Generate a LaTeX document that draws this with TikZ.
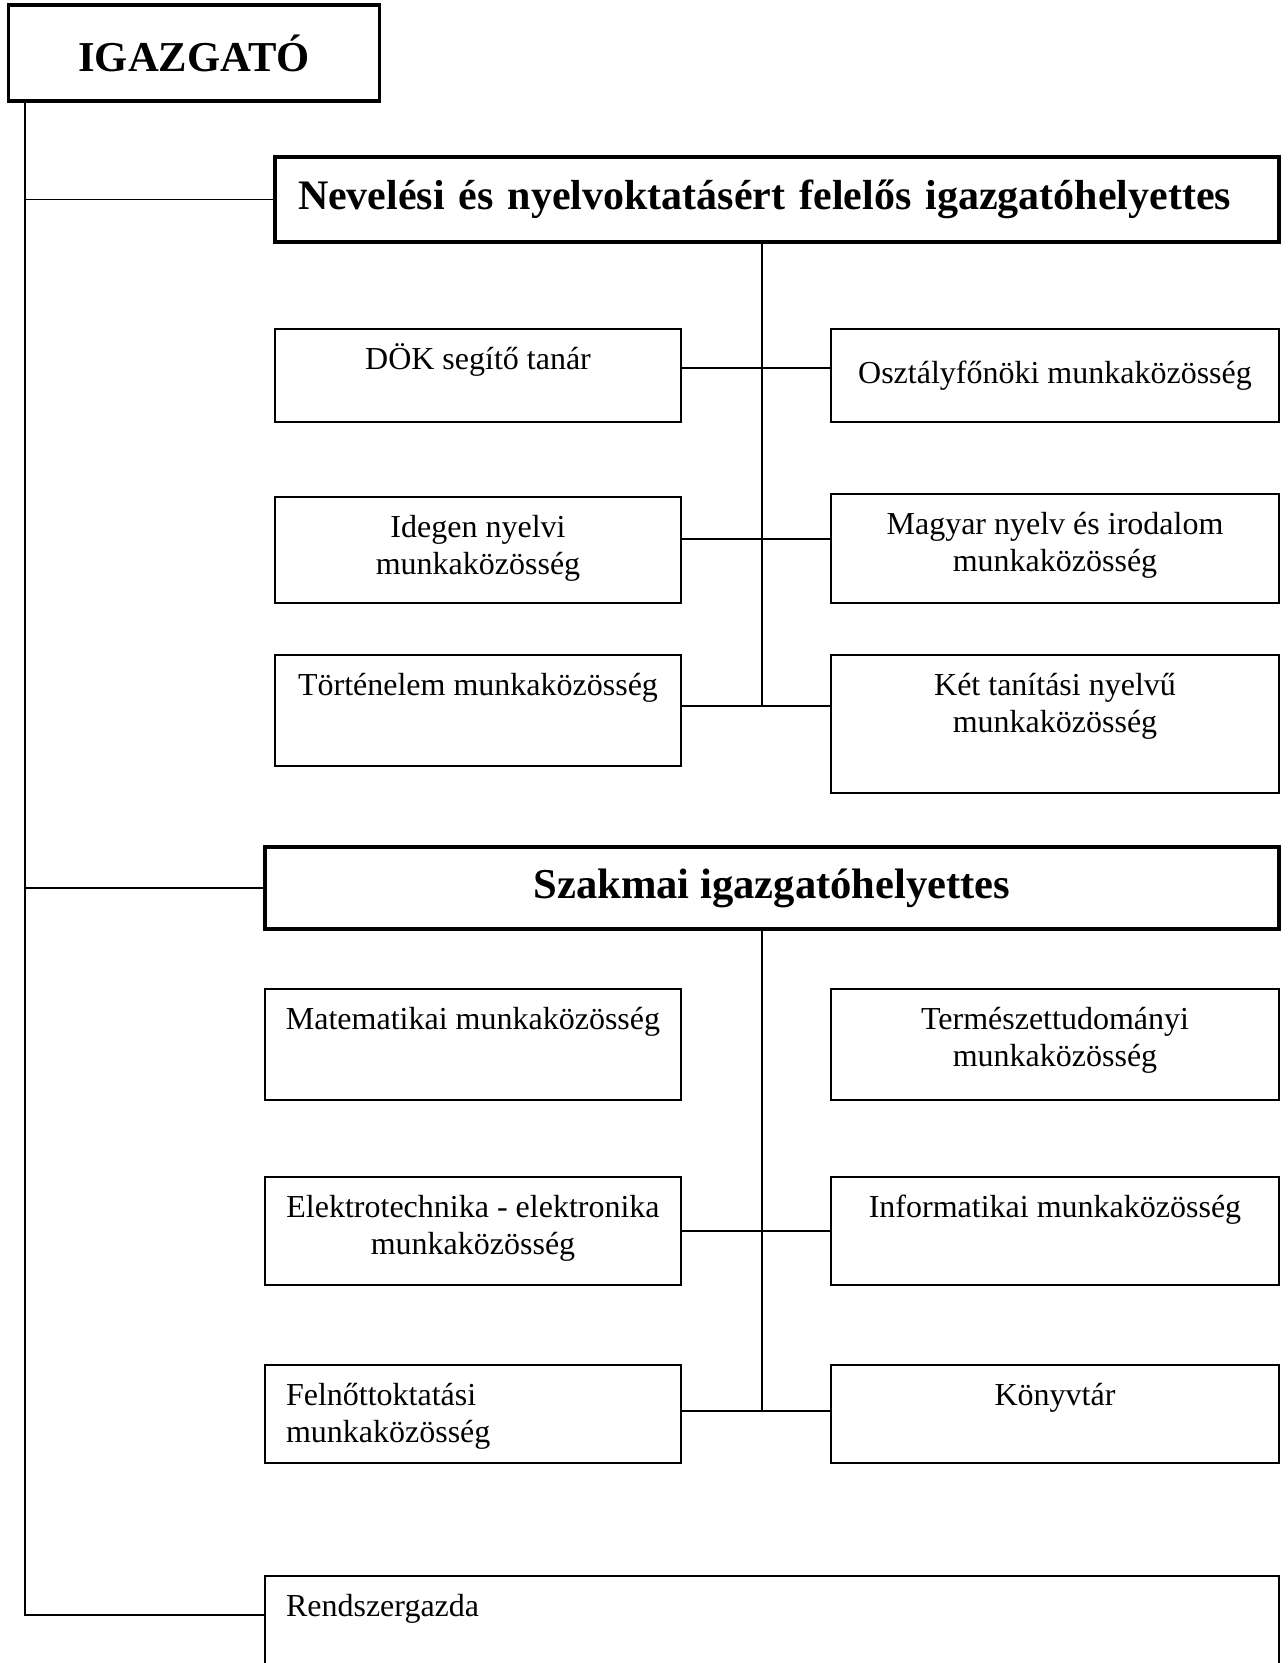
\documentclass[tikz,border=0pt]{standalone}
\usepackage{fontspec}
\setmainfont{Liberation Serif}

\begin{document}
\begin{tikzpicture}[x=0.5pt,y=-0.5pt,
    headbox/.style={draw,line width=1.75pt,inner sep=0pt,
      font=\bfseries\fontsize{21.3}{25}\selectfont},
    unitbox/.style={draw,line width=0.75pt,inner sep=0pt},
    leftcol/.style={unitbox,minimum width=203pt},
    lowleft/.style={unitbox,minimum width=208pt},
    rightcol/.style={unitbox,minimum width=224pt},
    toptxt/.style={anchor=north,align=center,inner sep=0pt,yshift=-7.5pt,
      font=\fontsize{16}{18.5}\selectfont,execute at begin node=\strut},
    toptwo/.style={toptxt,yshift=-2pt},
    conn/.style={line width=0.75pt},
  ]
  \useasboundingbox (0,0) rectangle (1287,1663);

  \node[headbox,minimum width=185.5pt,minimum height=48pt] (igazgato) at (194,53) {IGAZGATÓ};
  \node[headbox,minimum width=502pt,minimum height=42.5pt,text width=479pt,align=left,
    font=\bfseries\fontsize{21}{25}\selectfont] (nev)
    at (777,199.5) {Nevelési és nyelvoktatásért felelős igazgatóhelyettes};

  % nevelesi ag
  \node[leftcol,minimum height=46.5pt,label={[toptxt]90:DÖK segítő tanár}] (dok) at (478,375.5) {};
  \node[rightcol,minimum height=46.5pt,font=\fontsize{16}{18.5}\selectfont] (oszt)
    at (1055,375.5) {Osztályfőnöki munkaközösség};
  \node[leftcol,minimum height=53pt,label={[toptwo]90:{Idegen nyelvi\\munkaközösség}}] (ideg) at (478,550) {};
  \node[rightcol,minimum height=54.5pt,label={[toptwo]90:{Magyar nyelv és irodalom\\munkaközösség}}] (magy) at (1055,548.5) {};
  \node[leftcol,minimum height=55.5pt,label={[toptxt]90:Történelem munkaközösség}] (tort) at (478,710.5) {};
  \node[rightcol,minimum height=69pt,label={[toptwo]90:{Két tanítási nyelvű\\munkaközösség}}] (ket) at (1055,724) {};

  \node[headbox,minimum width=507pt,minimum height=41pt] (szak) at (772,888) {Szakmai igazgatóhelyettes};

  % szakmai ag
  \node[lowleft,minimum height=55.5pt,label={[toptxt]90:Matematikai munkaközösség}] (mat) at (473,1044.5) {};
  \node[rightcol,minimum height=55.5pt,label={[toptwo]90:{Természettudományi\\munkaközösség}}] (term) at (1055,1044.5) {};
  \node[lowleft,minimum height=54pt,label={[toptwo]90:{Elektrotechnika - elektronika\\munkaközösség}}] (elek) at (473,1231) {};
  \node[rightcol,minimum height=54pt,label={[toptxt]90:Informatikai munkaközösség}] (info) at (1055,1231) {};
  \node[lowleft,minimum height=49pt,label={[toptxt,text width=187pt,align=left]90:{Felnőttoktatási\\munkaközösség}}] (feln) at (473,1414) {};
  \node[rightcol,minimum height=49pt,label={[toptxt]90:Könyvtár}] (konyv) at (1055,1414) {};

  \node[unitbox,minimum width=507pt,minimum height=62pt,label={[toptxt,text width=486pt,align=left]90:Rendszergazda}] (rend) at (772,1638) {};

  % vonalak
  \coordinate (spine) at ([xshift=9pt]igazgato.south west);
  \draw[conn] (spine) |- ([yshift=11.5pt]rend.west);
  \draw[conn] (spine |- nev.west) -- (nev.west);
  \draw[conn] (spine |- szak.west) -- (szak.west);

  \coordinate (n1) at (762,368);
  \coordinate (n2) at (762,539);
  \coordinate (n3) at (762,706);
  \draw[conn] (nev.south -| n1) -- (n3);
  \draw[conn] (dok.east |- n1) -- (oszt.west |- n1);
  \draw[conn] (ideg.east |- n2) -- (magy.west |- n2);
  \draw[conn] (tort.east |- n3) -- (ket.west |- n3);

  \coordinate (n4) at (762,1231);
  \coordinate (n5) at (762,1411);
  \draw[conn] (szak.south -| n4) -- (n5);
  \draw[conn] (elek.east |- n4) -- (info.west |- n4);
  \draw[conn] (feln.east |- n5) -- (konyv.west |- n5);
\end{tikzpicture}
\end{document}
